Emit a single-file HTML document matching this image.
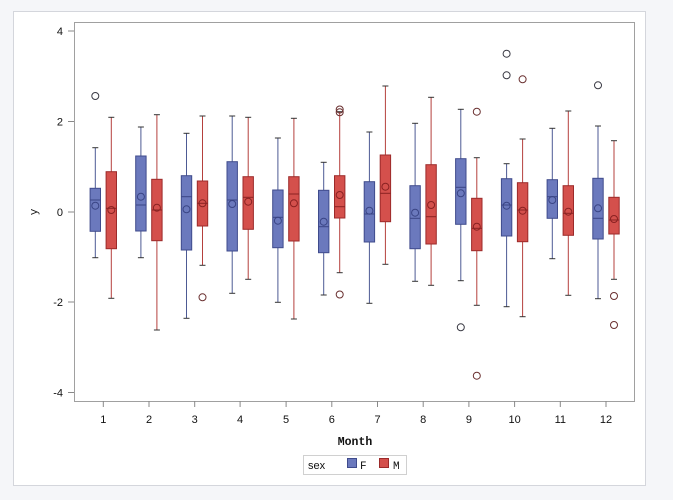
<!DOCTYPE html>
<html><head><meta charset="utf-8"><style>
html,body{margin:0;padding:0;background:#f5f6f9;}
svg{display:block;}
.f rect{fill:#6b79bd;stroke:#3f4b8c;stroke-width:1;}
.m rect{fill:#d4504c;stroke:#9c2a2a;stroke-width:1;}
.f .w{stroke:#4d5a94;stroke-width:1;}
.m .w{stroke:#b5403d;stroke-width:1;}
.cap{stroke:#333;stroke-width:1;}
.f .md{stroke:#3a4585;stroke-width:1;}
.m .md{stroke:#8a2222;stroke-width:1;}
.f .mn{fill:none;stroke:#3a4585;stroke-width:1;}
.m .mn{fill:none;stroke:#8a2222;stroke-width:1;}
.o{fill:none;stroke:#3a3a44;stroke-width:1;}
.om{fill:none;stroke:#6a3030;stroke-width:1;}
text{font-family:"Liberation Sans",sans-serif;font-size:11px;fill:#111;}
.mono{font-family:"Liberation Mono",monospace;}
</style></head><body>
<svg width="673" height="500" viewBox="0 0 673 500" xmlns="http://www.w3.org/2000/svg">
<rect x="0" y="0" width="673" height="500" fill="#f5f6f9"/>
<rect x="13.5" y="11.5" width="632" height="474" fill="#fff" stroke="#d4d6dc"/>
<rect x="74.5" y="22.5" width="560" height="379" fill="#fff" stroke="#a0a0a0"/>

<!-- y axis ticks -->
<g stroke="#888" stroke-width="1">
<line x1="68" y1="31" x2="74" y2="31"/>
<line x1="68" y1="121.5" x2="74" y2="121.5"/>
<line x1="68" y1="212" x2="74" y2="212"/>
<line x1="68" y1="302" x2="74" y2="302"/>
<line x1="68" y1="392.5" x2="74" y2="392.5"/>
</g>
<g text-anchor="end">
<text x="63" y="35">4</text>
<text x="63" y="125.5">2</text>
<text x="63" y="216">0</text>
<text x="63" y="306">-2</text>
<text x="63" y="396.5">-4</text>
</g>
<text class="mono" x="0" y="0" transform="translate(37,212) rotate(-90)" text-anchor="middle">y</text>

<!-- x axis ticks -->
<g stroke="#888" stroke-width="1">
<line x1="103.3" y1="401" x2="103.3" y2="407"/>
<line x1="149" y1="401" x2="149" y2="407"/>
<line x1="194.7" y1="401" x2="194.7" y2="407"/>
<line x1="240.1" y1="401" x2="240.1" y2="407"/>
<line x1="286.1" y1="401" x2="286.1" y2="407"/>
<line x1="331.8" y1="401" x2="331.8" y2="407"/>
<line x1="377.5" y1="401" x2="377.5" y2="407"/>
<line x1="423.2" y1="401" x2="423.2" y2="407"/>
<line x1="468.9" y1="401" x2="468.9" y2="407"/>
<line x1="514.6" y1="401" x2="514.6" y2="407"/>
<line x1="560.3" y1="401" x2="560.3" y2="407"/>
<line x1="606" y1="401" x2="606" y2="407"/>
</g>
<g text-anchor="middle">
<text x="103.3" y="423">1</text>
<text x="149" y="423">2</text>
<text x="194.7" y="423">3</text>
<text x="240.1" y="423">4</text>
<text x="286.1" y="423">5</text>
<text x="331.8" y="423">6</text>
<text x="377.5" y="423">7</text>
<text x="423.2" y="423">8</text>
<text x="468.9" y="423">9</text>
<text x="514.6" y="423">10</text>
<text x="560.3" y="423">11</text>
<text x="606" y="423">12</text>
</g>
<text class="mono" x="355" y="445" text-anchor="middle" style="font-size:11.5px;font-weight:bold">Month</text>

<!-- legend -->
<rect x="303.5" y="455.5" width="103" height="19" fill="#fff" stroke="#d0d0d0"/>
<text x="308" y="469" style="font-size:11px">sex</text>
<rect x="347.5" y="458.5" width="9" height="9" fill="#6b79bd" stroke="#3f4b8c"/>
<text class="mono" x="360" y="469">F</text>
<rect x="379.5" y="458.5" width="9" height="9" fill="#d4504c" stroke="#9c2a2a"/>
<text class="mono" x="393" y="469">M</text>

<!-- boxes -->
<g transform="translate(95.3,0)" class="f"><line class="w" x1="0" y1="147.7" x2="0" y2="257.7"/><line class="cap" x1="-3" y1="147.7" x2="3" y2="147.7"/><line class="cap" x1="-3" y1="257.7" x2="3" y2="257.7"/><rect x="-5.2" y="188.3" width="10.4" height="43"/><line class="md" x1="-5.2" y1="200" x2="5.2" y2="200"/><circle class="mn" cx="0" cy="205.7" r="3.5"/></g>
<g transform="translate(111.3,0)" class="m"><line class="w" x1="0" y1="117.3" x2="0" y2="298.3"/><line class="cap" x1="-3" y1="117.3" x2="3" y2="117.3"/><line class="cap" x1="-3" y1="298.3" x2="3" y2="298.3"/><rect x="-5.2" y="171.7" width="10.4" height="77"/><line class="md" x1="-5.2" y1="208.3" x2="5.2" y2="208.3"/><circle class="mn" cx="0" cy="210" r="3.5"/></g>

<g transform="translate(140.9,0)" class="f"><line class="w" x1="0" y1="127" x2="0" y2="257.7"/><line class="cap" x1="-3" y1="127" x2="3" y2="127"/><line class="cap" x1="-3" y1="257.7" x2="3" y2="257.7"/><rect x="-5.2" y="156" width="10.4" height="75"/><line class="md" x1="-5.2" y1="205" x2="5.2" y2="205"/><circle class="mn" cx="0" cy="196.7" r="3.5"/></g>
<g transform="translate(156.9,0)" class="m"><line class="w" x1="0" y1="114.7" x2="0" y2="330"/><line class="cap" x1="-3" y1="114.7" x2="3" y2="114.7"/><line class="cap" x1="-3" y1="330" x2="3" y2="330"/><rect x="-5.2" y="179.3" width="10.4" height="61.4"/><line class="md" x1="-5.2" y1="210" x2="5.2" y2="210"/><circle class="mn" cx="0" cy="207.7" r="3.5"/></g>

<g transform="translate(186.5,0)" class="f"><line class="w" x1="0" y1="133.3" x2="0" y2="318.3"/><line class="cap" x1="-3" y1="133.3" x2="3" y2="133.3"/><line class="cap" x1="-3" y1="318.3" x2="3" y2="318.3"/><rect x="-5.2" y="175.7" width="10.4" height="74.3"/><line class="md" x1="-5.2" y1="196.7" x2="5.2" y2="196.7"/><circle class="mn" cx="0" cy="209.3" r="3.5"/></g>
<g transform="translate(202.5,0)" class="m"><line class="w" x1="0" y1="116" x2="0" y2="265.3"/><line class="cap" x1="-3" y1="116" x2="3" y2="116"/><line class="cap" x1="-3" y1="265.3" x2="3" y2="265.3"/><rect x="-5.2" y="181" width="10.4" height="45"/><line class="md" x1="-5.2" y1="203.3" x2="5.2" y2="203.3"/><circle class="mn" cx="0" cy="203.3" r="3.5"/></g>

<g transform="translate(232.2,0)" class="f"><line class="w" x1="0" y1="116" x2="0" y2="293.3"/><line class="cap" x1="-3" y1="116" x2="3" y2="116"/><line class="cap" x1="-3" y1="293.3" x2="3" y2="293.3"/><rect x="-5.2" y="161.7" width="10.4" height="89.3"/><line class="md" x1="-5.2" y1="200" x2="5.2" y2="200"/><circle class="mn" cx="0" cy="204" r="3.5"/></g>
<g transform="translate(248.2,0)" class="m"><line class="w" x1="0" y1="117.3" x2="0" y2="279.3"/><line class="cap" x1="-3" y1="117.3" x2="3" y2="117.3"/><line class="cap" x1="-3" y1="279.3" x2="3" y2="279.3"/><rect x="-5.2" y="176.7" width="10.4" height="52.6"/><line class="md" x1="-5.2" y1="197.3" x2="5.2" y2="197.3"/><circle class="mn" cx="0" cy="201.7" r="3.5"/></g>

<g transform="translate(277.9,0)" class="f"><line class="w" x1="0" y1="138" x2="0" y2="302.3"/><line class="cap" x1="-3" y1="138" x2="3" y2="138"/><line class="cap" x1="-3" y1="302.3" x2="3" y2="302.3"/><rect x="-5.2" y="190" width="10.4" height="57.7"/><line class="md" x1="-5.2" y1="217.3" x2="5.2" y2="217.3"/><circle class="mn" cx="0" cy="220.7" r="3.5"/></g>
<g transform="translate(293.9,0)" class="m"><line class="w" x1="0" y1="118.3" x2="0" y2="319"/><line class="cap" x1="-3" y1="118.3" x2="3" y2="118.3"/><line class="cap" x1="-3" y1="319" x2="3" y2="319"/><rect x="-5.2" y="176.7" width="10.4" height="64.3"/><line class="md" x1="-5.2" y1="194" x2="5.2" y2="194"/><circle class="mn" cx="0" cy="203.3" r="3.5"/></g>

<g transform="translate(323.7,0)" class="f"><line class="w" x1="0" y1="162.3" x2="0" y2="295"/><line class="cap" x1="-3" y1="162.3" x2="3" y2="162.3"/><line class="cap" x1="-3" y1="295" x2="3" y2="295"/><rect x="-5.2" y="190.3" width="10.4" height="62.4"/><line class="md" x1="-5.2" y1="226.7" x2="5.2" y2="226.7"/><circle class="mn" cx="0" cy="221.7" r="3.5"/></g>
<g transform="translate(339.7,0)" class="m"><line class="w" x1="0" y1="111.7" x2="0" y2="272.7"/><line class="cap" x1="-3" y1="111.7" x2="3" y2="111.7"/><line class="cap" x1="-3" y1="272.7" x2="3" y2="272.7"/><rect x="-5.2" y="175.7" width="10.4" height="42.3"/><line class="md" x1="-5.2" y1="206.7" x2="5.2" y2="206.7"/><circle class="mn" cx="0" cy="195" r="3.5"/></g>

<g transform="translate(369.4,0)" class="f"><line class="w" x1="0" y1="132" x2="0" y2="303.3"/><line class="cap" x1="-3" y1="132" x2="3" y2="132"/><line class="cap" x1="-3" y1="303.3" x2="3" y2="303.3"/><rect x="-5.2" y="181.7" width="10.4" height="60.3"/><line class="md" x1="-5.2" y1="214" x2="5.2" y2="214"/><circle class="mn" cx="0" cy="210.7" r="3.5"/></g>
<g transform="translate(385.4,0)" class="m"><line class="w" x1="0" y1="86" x2="0" y2="264.3"/><line class="cap" x1="-3" y1="86" x2="3" y2="86"/><line class="cap" x1="-3" y1="264.3" x2="3" y2="264.3"/><rect x="-5.2" y="155" width="10.4" height="66.7"/><line class="md" x1="-5.2" y1="193.3" x2="5.2" y2="193.3"/><circle class="mn" cx="0" cy="186.7" r="3.5"/></g>

<g transform="translate(415.1,0)" class="f"><line class="w" x1="0" y1="123.3" x2="0" y2="281.3"/><line class="cap" x1="-3" y1="123.3" x2="3" y2="123.3"/><line class="cap" x1="-3" y1="281.3" x2="3" y2="281.3"/><rect x="-5.2" y="185.7" width="10.4" height="63"/><line class="md" x1="-5.2" y1="218.3" x2="5.2" y2="218.3"/><circle class="mn" cx="0" cy="212.7" r="3.5"/></g>
<g transform="translate(431.1,0)" class="m"><line class="w" x1="0" y1="97.3" x2="0" y2="285.3"/><line class="cap" x1="-3" y1="97.3" x2="3" y2="97.3"/><line class="cap" x1="-3" y1="285.3" x2="3" y2="285.3"/><rect x="-5.2" y="164.7" width="10.4" height="79.3"/><line class="md" x1="-5.2" y1="216.7" x2="5.2" y2="216.7"/><circle class="mn" cx="0" cy="205" r="3.5"/></g>

<g transform="translate(460.8,0)" class="f"><line class="w" x1="0" y1="109.3" x2="0" y2="280.7"/><line class="cap" x1="-3" y1="109.3" x2="3" y2="109.3"/><line class="cap" x1="-3" y1="280.7" x2="3" y2="280.7"/><rect x="-5.2" y="158.7" width="10.4" height="65.6"/><line class="md" x1="-5.2" y1="187.3" x2="5.2" y2="187.3"/><circle class="mn" cx="0" cy="193.3" r="3.5"/></g>
<g transform="translate(476.8,0)" class="m"><line class="w" x1="0" y1="157.7" x2="0" y2="305.3"/><line class="cap" x1="-3" y1="157.7" x2="3" y2="157.7"/><line class="cap" x1="-3" y1="305.3" x2="3" y2="305.3"/><rect x="-5.2" y="198.3" width="10.4" height="52.4"/><line class="md" x1="-5.2" y1="228.3" x2="5.2" y2="228.3"/><circle class="mn" cx="0" cy="226.7" r="3.5"/></g>

<g transform="translate(506.6,0)" class="f"><line class="w" x1="0" y1="163.7" x2="0" y2="306.7"/><line class="cap" x1="-3" y1="163.7" x2="3" y2="163.7"/><line class="cap" x1="-3" y1="306.7" x2="3" y2="306.7"/><rect x="-5.2" y="178.7" width="10.4" height="57.3"/><line class="md" x1="-5.2" y1="205" x2="5.2" y2="205"/><circle class="mn" cx="0" cy="205.7" r="3.5"/></g>
<g transform="translate(522.6,0)" class="m"><line class="w" x1="0" y1="139" x2="0" y2="316.7"/><line class="cap" x1="-3" y1="139" x2="3" y2="139"/><line class="cap" x1="-3" y1="316.7" x2="3" y2="316.7"/><rect x="-5.2" y="182.7" width="10.4" height="59"/><line class="md" x1="-5.2" y1="210" x2="5.2" y2="210"/><circle class="mn" cx="0" cy="210.7" r="3.5"/></g>

<g transform="translate(552.3,0)" class="f"><line class="w" x1="0" y1="128.3" x2="0" y2="258.7"/><line class="cap" x1="-3" y1="128.3" x2="3" y2="128.3"/><line class="cap" x1="-3" y1="258.7" x2="3" y2="258.7"/><rect x="-5.2" y="179.7" width="10.4" height="38.6"/><line class="md" x1="-5.2" y1="196.7" x2="5.2" y2="196.7"/><circle class="mn" cx="0" cy="200" r="3.5"/></g>
<g transform="translate(568.3,0)" class="m"><line class="w" x1="0" y1="111" x2="0" y2="295.3"/><line class="cap" x1="-3" y1="111" x2="3" y2="111"/><line class="cap" x1="-3" y1="295.3" x2="3" y2="295.3"/><rect x="-5.2" y="185.7" width="10.4" height="49.6"/><line class="md" x1="-5.2" y1="213.3" x2="5.2" y2="213.3"/><circle class="mn" cx="0" cy="211.7" r="3.5"/></g>

<g transform="translate(598,0)" class="f"><line class="w" x1="0" y1="126" x2="0" y2="298.7"/><line class="cap" x1="-3" y1="126" x2="3" y2="126"/><line class="cap" x1="-3" y1="298.7" x2="3" y2="298.7"/><rect x="-5.2" y="178.3" width="10.4" height="60.7"/><line class="md" x1="-5.2" y1="218.3" x2="5.2" y2="218.3"/><circle class="mn" cx="0" cy="208.3" r="3.5"/></g>
<g transform="translate(614,0)" class="m"><line class="w" x1="0" y1="140.7" x2="0" y2="279.3"/><line class="cap" x1="-3" y1="140.7" x2="3" y2="140.7"/><line class="cap" x1="-3" y1="279.3" x2="3" y2="279.3"/><rect x="-5.2" y="197.3" width="10.4" height="36.7"/><line class="md" x1="-5.2" y1="220" x2="5.2" y2="220"/><circle class="mn" cx="0" cy="219" r="3.5"/></g>

<!-- outliers -->
<circle class="o" cx="95.3" cy="96" r="3.5"/>
<circle class="om" cx="202.5" cy="297.3" r="3.5"/>
<circle class="om" cx="339.7" cy="109.5" r="3.5"/>
<circle class="om" cx="339.7" cy="112.3" r="3.5"/>
<circle class="om" cx="339.7" cy="294.5" r="3.5"/>
<circle class="o" cx="460.8" cy="327.3" r="3.5"/>
<circle class="om" cx="476.8" cy="111.7" r="3.5"/>
<circle class="om" cx="476.8" cy="375.7" r="3.5"/>
<circle class="o" cx="506.6" cy="53.7" r="3.5"/>
<circle class="o" cx="506.6" cy="75.3" r="3.5"/>
<circle class="om" cx="522.6" cy="79.3" r="3.5"/>
<circle class="o" cx="598" cy="85.3" r="3.5"/>
<circle class="om" cx="614" cy="296" r="3.5"/>
<circle class="om" cx="614" cy="325" r="3.5"/>
</svg>
</body></html>
